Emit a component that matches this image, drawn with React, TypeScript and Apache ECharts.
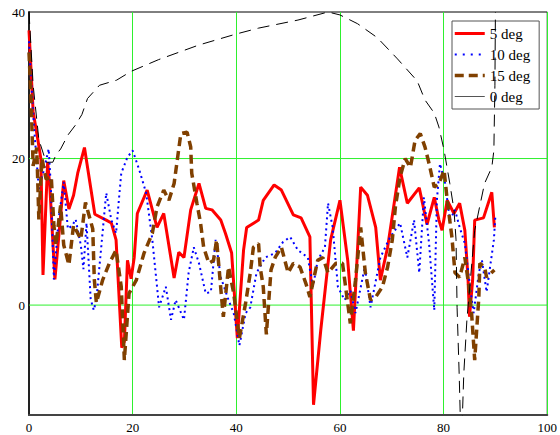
import React, { useEffect, useRef } from "react";
import * as echarts from "echarts";

const xTicks = [0, 20, 40, 60, 80, 100];
const yLabelValues = [0, 20, 40];
const seriesNames = ["5 deg", "10 deg", "15 deg", "0 deg"];

const deg5: number[][] = [
  [0, 37.5], [0.8, 26.4], [1.7, 22.6], [2.3, 19.9], [2.7, 4.1], [3.6, 19.5], [4, 16.4], [5, 3.5],
  [5.7, 9], [6.7, 17], [7.7, 13.1], [8.6, 15], [9.4, 18], [10.7, 21.5], [12.7, 12.4], [14.9, 11.6],
  [15.9, 11.2], [16.8, 8.9], [17.9, -5.8], [18.4, -5], [19, 6.1], [19.7, 3.6], [20.3, 6.5], [20.9, 12.5],
  [22.8, 15.7], [24.7, 10.6], [26, 12.5], [28, 3.7], [28.9, 7.2], [29.9, 6.5], [31.2, 13], [32.8, 16.6],
  [34.1, 13.2], [35.3, 13], [37, 11.6], [37.9, 9.8], [39.1, 7.1], [40.2, -4.5], [41.4, 7.5], [42, 10.6],
  [44.3, 11.6], [45.2, 14.3], [47.3, 16.4], [48.7, 15.7], [51, 12.3], [52.5, 11.9], [54.2, 9.3],
  [54.9, -13.6], [56.3, -3.4], [58.2, 8.9], [60, 14.3], [61.5, 6.1], [62.6, -3.5], [64, 16.1],
  [65.3, 15], [66.9, 10.6], [67.8, 3.4], [69.2, 7.9], [71.5, 18.8], [73, 13.9], [75.3, 16], [76.8, 11],
  [78.2, 14.7], [79.1, 11.6], [79.7, 10.2], [80.7, 14.3], [82, 12.5], [83.1, 13.9], [84.1, 10.2],
  [84.7, 3.8], [85, -1.6], [85.6, 3.4], [86, 11.6], [87.7, 11.9], [89.3, 15.4], [89.8, 10.6],
];

const deg10: number[][] = [
  [0, 36], [0.4, 30.8], [1, 24], [1.9, 15.8], [2.9, 18.5], [3.8, 21.3], [4.2, 16.4], [4.8, 3.5],
  [5.7, 11.7], [6.7, 16.8], [7.5, 10.4], [8.4, 10.9], [9, 11.7], [10, 8.2], [10.5, 4.9], [11.1, 11.2],
  [11.9, 0.8], [12.5, -0.7], [13, 0.7], [14.9, 15.3], [15.9, 11.6], [16.8, 9.8], [17.3, 14], [17.8, 18],
  [19, 20.2], [20, 21.1], [21.3, 18.4], [22.6, 15.3], [23.8, 8.9], [25.1, -0.3], [26.4, 2.5],
  [27.4, -2], [28.3, 0.7], [29.9, -2], [30.8, 4.4], [31.8, 7.9], [32.8, 5.7], [34.1, 1.6], [35.1, 1.8],
  [36, 8.9], [37, 3.8], [38.5, 0.7], [39.5, -1.1], [40.6, -5.5], [41.8, -1.1], [42.7, -0.3],
  [43.9, 4.4], [45.6, 6.5], [47.5, 7.1], [49, 8.6], [50.4, 9.3], [51.9, 7.5], [53.8, 6.5], [54.8, 2.5],
  [55.7, 6.1], [57.1, 7.9], [57.7, 13.9], [58.6, 10.6], [59.6, 2.5], [60.9, 0.7], [62, 2], [63, -1.1],
  [64.8, 5.2], [65.9, -0.3], [67.8, 6.5], [69.7, 9.3], [71.6, 11.2], [73, 6.5], [74.3, 11.6],
  [75.3, 4.4], [76.2, 14.7], [77.2, 8.4], [78.2, -0.7], [78.7, 14.3], [79.3, 19.3], [80.3, 16.6],
  [81.2, 11.6], [82.2, 13], [83.1, 10.6], [84.1, 8.4], [85.1, 2.5], [85.8, -1.1], [86.8, 4.4],
  [87.4, 6.1], [88.3, 1.8], [89.7, 8.9], [90, 12.3],
];

const deg15: number[][] = [
  [0, 34.5], [0.4, 28], [0.8, 19], [1.5, 21.5], [1.9, 11.7], [2.5, 20], [3.3, 17.2], [4.3, 17.5],
  [4.8, 10.9], [5.2, 8.2], [6.1, 13.6], [6.7, 8.2], [7.7, 5.5], [8.6, 10.9], [10, 9], [10.9, 14],
  [12.3, 10.4], [12.6, 3.5], [13, 0.3], [14.2, 3.4], [15.5, 5.7], [16.8, 7.5], [17.8, 2.5],
  [18.4, -7.5], [19.3, 1.6], [20.7, 3.4], [22.2, 7.1], [23.8, 9.8], [24.7, 13.4], [26, 15.7],
  [27, 14.3], [28, 16.6], [29.3, 23.4], [30.5, 23.6], [31.2, 21.6], [31.4, 18], [32.4, 13.9],
  [33.1, 11.2], [33.7, 7.9], [34.7, 5.7], [35.6, 6.1], [36.2, 8.9], [37.2, 0.7], [37.5, -1.6],
  [38.5, 5.2], [39.5, 1.6], [40.6, -4.5], [41.8, 0.3], [42.7, 4.4], [43.3, 7.9], [44.3, 8.4],
  [44.6, 5.2], [45.2, 2.5], [45.8, -4], [46.7, 4.8], [47.5, 6.5], [48.7, 7.9], [50, 4.4], [51, 5.7],
  [52.3, 5.2], [53.4, 3], [54.2, 1.1], [55.7, 6.1], [56.7, 6.5], [57.7, 4.4], [59.2, 5.7],
  [60.5, 5.7], [62, -2.5], [63, 3.4], [64, 10.6], [64.9, 4.4], [65.9, 0.7], [66.9, 1.1], [68.2, 2.5],
  [69.2, 5.2], [70.1, 8.9], [70.7, 13.4], [71.6, 17.5], [72.6, 20], [73.6, 18.8], [74.5, 22.5],
  [75.5, 23.4], [76.4, 21.6], [77.2, 19.3], [78.2, 16.1], [79.1, 16.6], [80.1, 18.4], [80.7, 14.3],
  [81.6, 9.3], [82.2, 4.4], [83.1, 3.8], [84.1, 6.5], [84.9, 2.5], [85.4, -1.1], [86, -7.5],
  [86.8, 1.1], [87, 5.7], [87.9, 5.2], [88.3, 3.8], [89.8, 4.8],
];

const deg0: number[][] = [
  [0, 40], [0.8, 30], [1.9, 22.6], [3.3, 19.5], [4.6, 19.5], [5.2, 20.5], [6.1, 21.3], [7.5, 23.2],
  [9, 24.6], [10.2, 26], [11.3, 28.2], [13.6, 30], [16.9, 30.7], [19.7, 31.9], [25, 33.5],
  [32.8, 35.5], [40, 37], [44.3, 37.8], [51.9, 38.9], [57.7, 40], [60, 39.6], [63.4, 38.4],
  [67.2, 36.5], [71.1, 33.6], [74.9, 30.6], [76.4, 28], [78.2, 26.2], [79.1, 24.3], [80.1, 21.1],
  [81.2, 16.6], [82, 13], [82.4, 8.9], [82.6, -0.3], [83, -9.3], [83.4, -20], [83.9, -9.3],
  [84.5, -2], [86, 10.2], [87.9, 16.6], [89.3, 18.8], [89.7, 21.1], [89.9, 30], [90, 40],
];

const gridZero: number[][] = [[0, 0], [100, 0]];
const gridTwenty: number[][] = [[0, 20], [100, 20]];

const SERIF = "Liberation Serif";
const GREEN = "#2ef02e";
const hiddenSymbol = { opacity: 0, color: "rgba(0,0,0,0)", borderWidth: 0 };

export default function App() {
  const ref = useRef<HTMLDivElement>(null);
  useEffect(() => {
    const chart = echarts.init(ref.current!, null, { renderer: "svg" });
    const guide = (data: number[][]) => ({
      type: "line",
      data,
      symbol: "none",
      silent: true,
      z: 1,
      lineStyle: { color: GREEN, width: 1 },
    });
    chart.setOption({
      animation: false,
      backgroundColor: "#fff",
      grid: {
        left: 29,
        right: 9,
        top: 12,
        bottom: 20,
        show: true,
        borderColor: "#000",
        borderWidth: 1,
        backgroundColor: "#fff",
      },
      xAxis: {
        type: "value",
        min: 0,
        max: 100,
        interval: 20,
        axisLine: { show: true, onZero: false, lineStyle: { color: "#444", width: 2 } },
        axisTick: { show: false },
        axisLabel: {
          color: "#000",
          fontFamily: SERIF,
          fontSize: 13,
          margin: 6,
          formatter: (v: number) => (xTicks.includes(v) ? String(v) : ""),
        },
        splitLine: { show: true, lineStyle: { color: GREEN, width: 1 } },
      },
      yAxis: {
        type: "value",
        min: -15,
        max: 40,
        interval: 5,
        axisLine: { show: true, onZero: false, lineStyle: { color: "#222", width: 2 } },
        axisTick: { show: false },
        axisLabel: {
          color: "#000",
          fontFamily: SERIF,
          fontSize: 13,
          margin: 4,
          formatter: (v: number) => (yLabelValues.includes(v) ? String(v) : ""),
        },
        splitLine: { show: false },
      },
      legend: {
        data: [
          { name: seriesNames[0], itemStyle: hiddenSymbol, lineStyle: { width: 3, color: "#ff0000", type: "solid" } },
          { name: seriesNames[1], itemStyle: hiddenSymbol, lineStyle: { width: 2, color: "#0000ff", type: [2, 6] } },
          { name: seriesNames[2], itemStyle: hiddenSymbol, lineStyle: { width: 3.5, color: "#804000", type: [9, 5] } },
          { name: seriesNames[3], itemStyle: hiddenSymbol, lineStyle: { width: 1, color: "#555", type: "solid" } },
        ],
        orient: "vertical",
        left: 452,
        top: 21,
        padding: [5, 9, 5, 1],
        itemGap: 6,
        itemWidth: 30,
        itemHeight: 14,
        backgroundColor: "#fff",
        borderColor: "#555",
        borderWidth: 1,
        borderRadius: 0,
        textStyle: { color: "#000", fontFamily: SERIF, fontSize: 15, lineHeight: 15 },
      },
      series: [
        guide(gridZero),
        guide(gridTwenty),
        {
          name: seriesNames[0],
          type: "line",
          data: deg5,
          symbol: "none",
          z: 3,
          lineStyle: { color: "#ff0000", width: 3 },
          itemStyle: { color: "#ff0000" },
        },
        {
          name: seriesNames[1],
          type: "line",
          data: deg10,
          symbol: "none",
          z: 4,
          lineStyle: { color: "#0000ff", width: 2, type: [2, 3.5] },
          itemStyle: { color: "#0000ff" },
        },
        {
          name: seriesNames[2],
          type: "line",
          data: deg15,
          symbol: "none",
          z: 5,
          lineStyle: { color: "#804000", width: 3.5, type: [9, 5] },
          itemStyle: { color: "#804000" },
        },
        {
          name: seriesNames[3],
          type: "line",
          data: deg0,
          symbol: "none",
          z: 6,
          lineStyle: { color: "#000", width: 1, type: [12, 7] },
          itemStyle: { color: "#000" },
        },
      ],
    });
    return () => chart.dispose();
  }, []);
  return (
    <div
      ref={ref}
      style={{ position: "fixed", left: 0, top: 0, width: 560, height: 435, background: "#fff" }}
    />
  );
}
